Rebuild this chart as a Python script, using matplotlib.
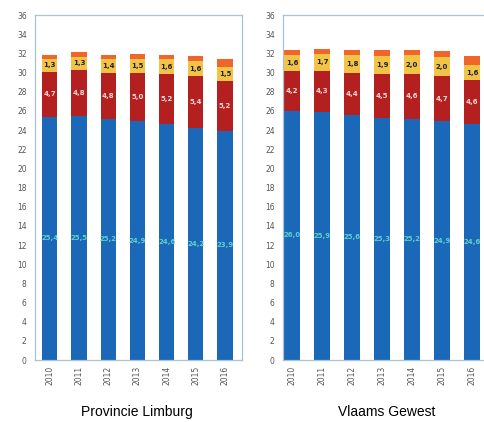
# Stacked bars per year, two regions side by side (Limburg vs Vlaanderen).
import matplotlib
matplotlib.use("Agg")
import matplotlib.pyplot as plt

years = ["2010", "2011", "2012", "2013", "2014", "2015", "2016"]

# Provincie Limburg
lim_blue = [25.4, 25.5, 25.2, 24.9, 24.6, 24.2, 23.9]
lim_red = [4.7, 4.8, 4.8, 5.0, 5.2, 5.4, 5.2]
lim_yellow = [1.3, 1.3, 1.4, 1.5, 1.6, 1.6, 1.5]
lim_orange = [0.4, 0.5, 0.4, 0.5, 0.4, 0.5, 0.8]

# Vlaams Gewest
vl_blue = [26.0, 25.9, 25.6, 25.3, 25.2, 24.9, 24.6]
vl_red = [4.2, 4.3, 4.4, 4.5, 4.6, 4.7, 4.6]
vl_yellow = [1.6, 1.7, 1.8, 1.9, 2.0, 2.0, 1.6]
vl_orange = [0.5, 0.6, 0.6, 0.6, 0.5, 0.6, 0.9]

titles = ["Provincie Limburg", "Vlaams Gewest"]

colours = ["#1b67b8", "#b3201f", "#f1c448", "#f0652a"]
label_colours = ["#5fd0c8", "#f6d6d6", "#222222", None]

W, H = 485, 422
fig = plt.figure(figsize=(W / 100, H / 100), dpi=100)

panels = [
    (35, (-0.51, 6.58), [lim_blue, lim_red, lim_yellow, lim_orange]),
    (283, (-0.30, 6.60), [vl_blue, vl_red, vl_yellow, vl_orange]),
]

x = list(range(len(years)))
for (left_px, xlim, segs), title in zip(panels, titles):
    ax = fig.add_axes([left_px / W, (H - 360) / H, 207 / W, 345 / H])
    bottom = [0.0] * len(years)
    for vals, col, lcol in zip(segs, colours, label_colours):
        ax.bar(x, vals, bottom=bottom, width=0.52, color=col, linewidth=0)
        if lcol:
            for xi, b, v in zip(x, bottom, vals):
                ax.text(xi, b + v / 2, f"{v:.1f}".replace(".", ","), ha="center",
                        va="center", fontsize=5, color=lcol, fontweight="bold")
        bottom = [b + v for b, v in zip(bottom, vals)]

    ax.set_xlim(*xlim)
    ax.set_ylim(0, 36)
    ax.set_yticks(range(0, 37, 2))
    ax.set_xticks(x)
    ax.set_xticklabels(years, rotation=90)
    ax.tick_params(axis="both", length=0, labelsize=5.5, colors="#555555")
    ax.tick_params(axis="y", pad=6)
    ax.tick_params(axis="x", pad=4)
    for s in ax.spines.values():
        s.set_color("#a9c3d4")
        s.set_linewidth(0.9)

    cx = (left_px + 102) / W if left_px < 100 else (left_px + 104) / W
    fig.text(cx, 1 - 412 / H, title, ha="center", va="center", fontsize=10,
             family="Liberation Sans")

fig.savefig("out.png", dpi=100)
